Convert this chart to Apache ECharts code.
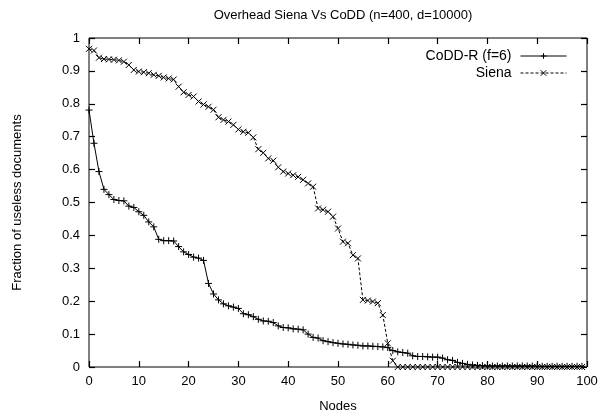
<!DOCTYPE html>
<html>
<head>
<meta charset="utf-8">
<script src="https://cdn.jsdelivr.net/npm/echarts@6/dist/echarts.min.js"></script>
<style>html,body{margin:0;padding:0;background:#fff}#c{width:614px;height:418px}</style>
</head>
<body>
<div id="c"></div>
<script>
const titleText = "Overhead Siena Vs CoDD (n=400, d=10000)";
const xName = "Nodes";
const yName = "Fraction of useless documents";
const seriesNames = ["CoDD-R (f=6)", "Siena"];

const codd = [
0.781,0.680,0.594,0.540,0.524,0.509,0.506,0.505,0.489,0.485,
0.472,0.461,0.441,0.426,0.388,0.384,0.384,0.383,0.366,0.350,
0.342,0.334,0.331,0.324,0.254,0.222,0.204,0.192,0.186,0.182,
0.178,0.162,0.159,0.153,0.145,0.140,0.139,0.135,0.125,0.120,
0.119,0.116,0.115,0.113,0.100,0.090,0.088,0.080,0.077,0.074,
0.072,0.070,0.069,0.067,0.066,0.064,0.064,0.063,0.062,0.061,
0.059,0.050,0.046,0.044,0.042,0.034,0.032,0.032,0.031,0.030,
0.030,0.027,0.022,0.020,0.014,0.011,0.008,0.006,0.005,0.004,
0.003,0.003,0.003,0.003,0.003,0.003,0.003,0.003,0.003,0.003,
0.002,0.002,0.002,0.002,0.002,0.002,0.002,0.002,0.002,0.002
];
const siena = [
0.967,0.962,0.940,0.936,0.935,0.934,0.932,0.928,0.918,0.903,
0.898,0.896,0.893,0.888,0.885,0.880,0.877,0.874,0.852,0.835,
0.827,0.822,0.807,0.798,0.791,0.782,0.759,0.751,0.746,0.736,
0.722,0.715,0.712,0.698,0.662,0.651,0.634,0.627,0.607,0.594,
0.588,0.583,0.578,0.569,0.558,0.548,0.482,0.478,0.472,0.457,
0.421,0.381,0.376,0.340,0.330,0.204,0.202,0.199,0.194,0.158,
0.072,0.019,0,0,0,0,0,0,0,0,
0,0,0,0,0,0,0,0,0,0,
0,0,0,0,0,0,0,0,0,0,
0,0,0,0,0,0,0,0,0,0
];

const FONT = "Liberation Sans, Arial, Helvetica, sans-serif";
const plusPath = 'path://M0,5L10,5M5,0L5,10';
const crossPath = 'path://M0,0L10,10M10,0L0,10';

const toPairs = arr => arr.map((v, i) => [i, v]);

function deco() {
  return {
    axisLine: {show: false, onZero: false},
    axisTick: {show: true, inside: true, length: 6, lineStyle: {color: '#000', width: 1.2}},
    splitLine: {show: false}
  };
}

const chart = echarts.init(document.getElementById('c'), null, {renderer: 'canvas'});

chart.setOption({
  animation: false,
  backgroundColor: '#fff',
  title: {
    text: titleText,
    left: 338, top: 4, textAlign: 'center',
    textStyle: {fontFamily: FONT, fontSize: 13, fontWeight: 'normal', color: '#000'}
  },
  legend: {
    orient: 'vertical',
    right: 42, top: 44,
    align: 'right',
    itemWidth: 46, itemHeight: 7, itemGap: 3,
    lineStyle: {width: 1},
    itemStyle: {borderWidth: 1},
    textStyle: {fontFamily: FONT, fontSize: 14, color: '#000', padding: [0, 4, 0, 0]},
    data: seriesNames
  },
  grid: {left: 89, top: 38, width: 498, height: 329, containLabel: false,
         show: true, borderColor: '#000', borderWidth: 1, backgroundColor: 'transparent'},
  xAxis: [
    Object.assign(deco(), {
      type: 'value', min: 0, max: 100, interval: 10, position: 'bottom',
      name: xName, nameLocation: 'middle', nameGap: 33,
      nameTextStyle: {fontFamily: FONT, fontSize: 13, color: '#000'},
      axisLabel: {fontFamily: FONT, fontSize: 13, color: '#000', margin: 8}
    }),
    Object.assign(deco(), {
      type: 'value', min: 0, max: 100, interval: 10, position: 'top',
      axisLabel: {show: false}
    })
  ],
  yAxis: [
    Object.assign(deco(), {
      type: 'value', min: 0, max: 1, interval: 0.1, position: 'left',
      name: yName, nameLocation: 'middle', nameGap: 65,
      nameTextStyle: {fontFamily: FONT, fontSize: 13, color: '#000'},
      axisLabel: {fontFamily: FONT, fontSize: 13, color: '#000', margin: 9}
    }),
    Object.assign(deco(), {
      type: 'value', min: 0, max: 1, interval: 0.1, position: 'right',
      axisLabel: {show: false}
    })
  ],
  series: [
    {
      name: seriesNames[0], type: 'line', data: toPairs(codd),
      symbol: plusPath, symbolSize: 7, showAllSymbol: true,
      lineStyle: {color: '#000', width: 1},
      itemStyle: {color: '#000', borderColor: '#000', borderWidth: 1}
    },
    {
      name: seriesNames[1], type: 'line', data: toPairs(siena),
      symbol: crossPath, symbolSize: 6, showAllSymbol: true,
      lineStyle: {color: '#000', width: 1, type: [3, 2]},
      itemStyle: {color: '#000', borderColor: '#000', borderWidth: 1}
    }
  ]
});
</script>
</body>
</html>
